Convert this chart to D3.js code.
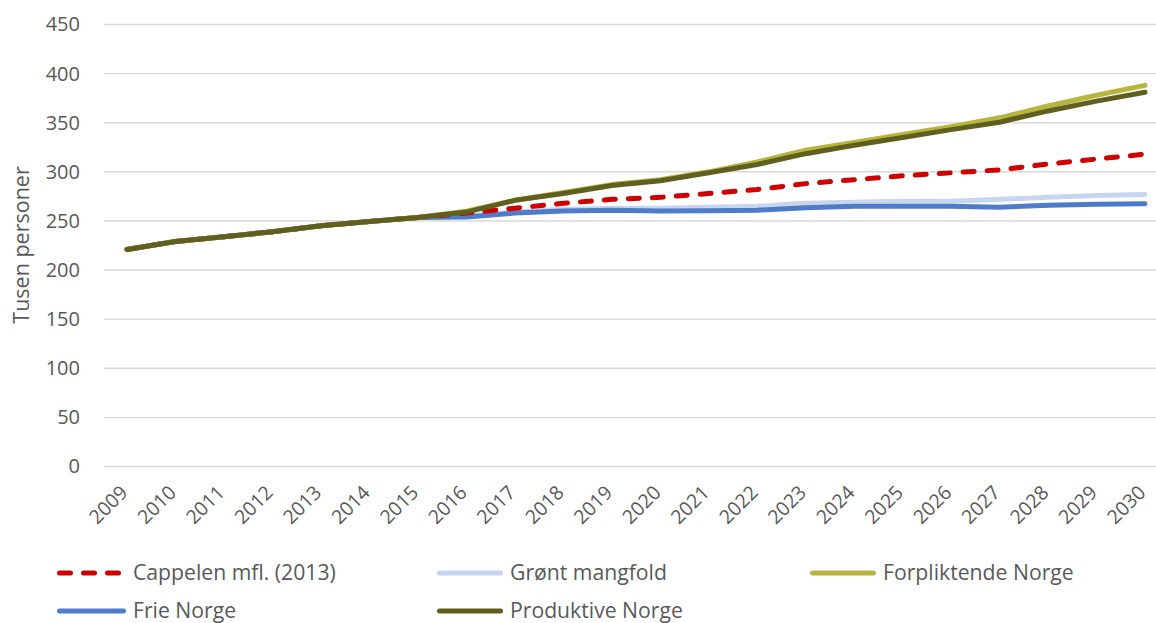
<!DOCTYPE html>
<html>
<head>
<meta charset="utf-8">
<script src="https://cdn.jsdelivr.net/npm/d3@7"></script>
<style>
  html, body { margin: 0; padding: 0; background: #fff; }
  svg { display: block; }
  text { font-family: "Open Sans", "Noto Sans", sans-serif; fill: #595959; }
</style>
</head>
<body>
<svg id="chart" width="1156" height="623"></svg>
<script>
// Years on the category axis
const years = ["2009","2010","2011","2012","2013","2014","2015","2016","2017","2018","2019",
               "2020","2021","2022","2023","2024","2025","2026","2027","2028","2029","2030"];

// Value axis ticks (thousand persons)
const yTicks = [0, 50, 100, 150, 200, 250, 300, 350, 400, 450];

// Series values, thousand persons
const cappelen      = [221, 229, 234, 239, 245, 249.5, 253.5, 258, 263, 268, 272, 274, 278, 282, 288, 292, 296, 299, 302, 308, 313, 318];
const grontMangfold = [221, 229, 234, 239, 245, 249.5, 253.5, 255, 259, 262, 263, 263, 264, 265, 268, 269, 270, 270, 272, 274, 276, 277];
const forpliktende  = [221, 229, 234, 239, 245, 249.5, 253.5, 260, 271, 279, 287, 292, 300, 310, 322, 330, 338, 346, 355, 367, 378, 388];
const frieNorge     = [221, 229, 234, 239, 245, 249.5, 253.5, 254, 258, 260, 261, 260, 260.5, 261, 263.5, 265, 265, 265, 264, 266, 267, 267.5];
const produktive    = [221, 229, 234, 239, 245, 249.5, 253.5, 259, 271, 278, 286, 291, 299, 307.5, 318.5, 327, 335, 343, 350.5, 362, 372, 381];

const seriesNames = ["Cappelen mfl. (2013)", "Grønt mangfold", "Forpliktende Norge", "Frie Norge", "Produktive Norge"];

// Drawing order: later entries sit on top
const series = [
  { name: seriesNames[1], values: grontMangfold, color: "#C7D5EE", dash: null },
  { name: seriesNames[3], values: frieNorge,     color: "#4F7CC9", dash: null },
  { name: seriesNames[0], values: cappelen,      color: "#D00000", dash: "11 13" },
  { name: seriesNames[2], values: forpliktende,  color: "#B8B53E", dash: null },
  { name: seriesNames[4], values: produktive,    color: "#5F601F", dash: null }
];

const svg = d3.select("#chart");

const plotLeft = 104, plotRight = 1156;
const x = d3.scalePoint().domain(years).range([127, 1145]);
const y = d3.scaleLinear().domain([0, 450]).range([466.5, 24.5]);

// Horizontal gridlines
svg.append("g")
  .selectAll("line")
  .data(yTicks)
  .join("line")
  .attr("x1", plotLeft).attr("x2", plotRight)
  .attr("y1", d => y(d)).attr("y2", d => y(d))
  .attr("stroke", "#D9D9D9").attr("stroke-width", 1.5);

// Value axis labels
const yAxis = d3.axisLeft(y).tickValues(yTicks).tickSize(0).tickPadding(0);
const gy = svg.append("g").attr("transform", "translate(80,0)").call(yAxis);
gy.select(".domain").remove();
gy.selectAll("text")
  .attr("font-size", 20)
  .attr("fill", "#595959")
  .attr("font-family", "'Open Sans', sans-serif");

// Category axis labels, rotated
const xAxis = d3.axisBottom(x).tickSize(0).tickPadding(0);
const gx = svg.append("g").call(xAxis);
gx.select(".domain").remove();
gx.selectAll(".tick").attr("transform", d => `translate(${x(d) - 3},${489})`);
gx.selectAll("text")
  .attr("font-size", 19.5)
  .attr("fill", "#595959")
  .attr("font-family", "'Open Sans', sans-serif")
  .attr("text-anchor", "end")
  .attr("y", 0).attr("dy", "0.35em")
  .attr("transform", "rotate(-45)");

// Axis title
svg.append("text")
  .attr("transform", "translate(29,245) rotate(-90)")
  .attr("text-anchor", "middle")
  .attr("font-size", 21.5)
  .text("Tusen personer");

// Series lines
const line = d3.line()
  .x((d, i) => x(years[i]))
  .y(d => y(d));

svg.append("g")
  .selectAll("path")
  .data(series)
  .join("path")
  .attr("d", d => line(d.values))
  .attr("fill", "none")
  .attr("stroke", d => d.color)
  .attr("stroke-width", 5)
  .attr("stroke-linecap", "round")
  .attr("stroke-linejoin", "round")
  .attr("stroke-dasharray", d => d.dash);

// Legend
const legendItems = [
  { s: series[2], x: 57, y: 573, len: 66 },
  { s: series[0], x: 437, y: 573, len: 66 },
  { s: series[3], x: 810, y: 573, len: 66 },
  { s: series[1], x: 57, y: 611, len: 69 },
  { s: series[4], x: 437, y: 611, len: 66 }
];
const lg = svg.append("g").selectAll("g").data(legendItems).join("g")
  .attr("transform", d => `translate(${d.x},${d.y})`);
lg.append("line")
  .attr("x1", 2.5).attr("x2", d => d.len - 2.5)
  .attr("y1", 0).attr("y2", 0)
  .attr("stroke", d => d.s.color)
  .attr("stroke-width", 5)
  .attr("stroke-linecap", "round")
  .attr("stroke-dasharray", d => d.s.dash);
lg.append("text")
  .attr("x", d => d.s.dash ? 76 : d.len + 7)
  .attr("y", 0)
  .attr("dy", "0.35em")
  .attr("font-size", 21.2)
  .text(d => d.s.name);
</script>
</body>
</html>
